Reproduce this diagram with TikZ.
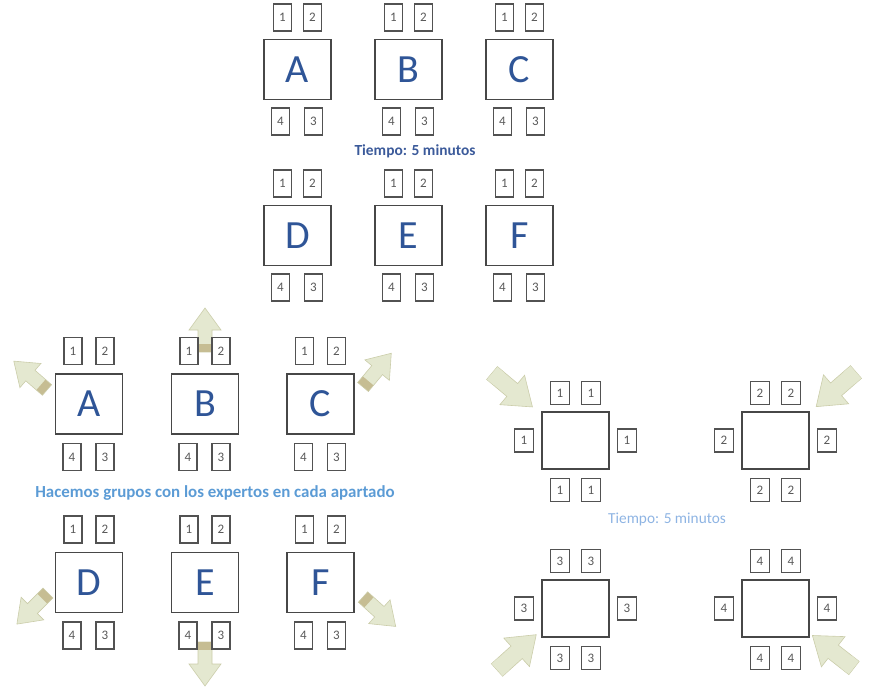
\documentclass[tikz,border=0pt]{standalone}
\usepackage{fontspec}
\setmainfont{Carlito}
\usetikzlibrary{positioning}

\definecolor{letra}{HTML}{2F5597}
\definecolor{tiempoazul}{HTML}{3B5A9A}
\definecolor{gruposazul}{HTML}{5B9BD5}
\definecolor{claroazul}{HTML}{8EB4E3}
\definecolor{flechafondo}{HTML}{E4E8D0}
\definecolor{flechaborde}{HTML}{CBCDAA}
\definecolor{flechasombra}{HTML}{C6BD93}

\tikzset{
  mesa/.style={draw=black!72, line width=1.5pt, fill=white, minimum width=67pt,
    minimum height=60pt, inner sep=0pt, text=letra, font=\fontsize{40}{40}\selectfont},
  mesita/.style={mesa, minimum height=57pt},
  silla/.style={draw=black!68, line width=1.5pt, fill=white, minimum width=18pt,
    minimum height=27pt, inner sep=0pt, text=black!65, font=\fontsize{13}{13}\selectfont},
  sillita/.style={silla, minimum width=19pt, minimum height=23pt},
}

% flecha: x, y (base), angulo, escala, color de la sombra
\newcommand{\flecha}[5]{%
  \begin{scope}[shift={(#1,#2)}, rotate=#3, scale=#4]
    \filldraw[fill=flechafondo, draw=flechaborde, line width=0.6pt]
      (0,-7) -- (22,-7) -- (22,-16) -- (44,0) -- (22,16) -- (22,7) -- (0,7) -- cycle;
    \fill[#5] (0.3,-6.7) rectangle (8,6.7);
  \end{scope}}

\begin{document}
\begin{tikzpicture}[x=1pt, y=-1pt]
  \useasboundingbox (0,0) rectangle (869,687);

  % mesas de arriba
  \foreach \l/\x/\y in {A/297.5/69.5, B/408.5/69.5, C/519.5/69.5,
                        D/297.5/235.5, E/408.5/235.5, F/519.5/235.5} {
    \node[mesa] (t\l) at (\x,\y) {\l};
    \node[silla, above=7pt of t\l.north, xshift=-15pt] (t\l1) {1};
    \node[silla, above=7pt of t\l.north, xshift=15pt] (t\l2) {2};
    \node[silla, below=7pt of t\l.south, xshift=-17pt] (t\l4) {4};
    \node[silla, below=7pt of t\l.south, xshift=16pt] (t\l3) {3};
  }
  \node[font=\bfseries\fontsize{15.4}{15.4}\selectfont, text=tiempoazul] (tiempo1) at (415,151) {Tiempo: 5 minutos};

  % flechas de los grupos
  \flecha{47}{390}{139}{1}{flechasombra}
  \flecha{205}{352}{90}{1}{flechasombra}
  \flecha{363}{387}{50}{1}{flechasombra}
  \flecha{48}{593}{225}{1}{flechasombra}
  \flecha{205}{642}{270}{1}{flechasombra}
  \flecha{363}{597}{318}{1}{flechasombra}

  % mesas de los grupos
  \foreach \l/\x/\y in {A/89/404, B/205/404, C/320.5/404,
                        D/89/582.5, E/205/582.5, F/320.5/582.5} {
    \node[mesa] (g\l) at (\x,\y) {\l};
    \node[silla, above=8pt of g\l.north, xshift=-16pt] (g\l1) {1};
    \node[silla, above=8pt of g\l.north, xshift=16pt] (g\l2) {2};
    \node[silla, below=8pt of g\l.south, xshift=-17pt] (g\l4) {4};
    \node[silla, below=8pt of g\l.south, xshift=16pt] (g\l3) {3};
  }
  \node[font=\bfseries\fontsize{16.9}{16.9}\selectfont, text=gruposazul] (hacemos) at (215,493) {Hacemos grupos con los expertos en cada apartado};

  % flechas de los expertos
  \flecha{492}{373}{320}{1.2}{flechafondo}
  \flecha{856}{372}{221}{1.2}{flechafondo}
  \flecha{497}{670}{42}{1.2}{flechafondo}
  \flecha{854}{668}{142}{1.2}{flechafondo}

  % mesas de los expertos
  \foreach \n/\x/\y in {1/575.5/440.5, 2/775.5/440.5, 3/575.5/608.5, 4/775.5/608.5} {
    \node[mesita] (e\n) at (\x,\y) {};
    \node[sillita, above=6pt of e\n.north, xshift=-15.5pt] (e\n a) {\n};
    \node[sillita, above=6pt of e\n.north, xshift=15.5pt] (e\n b) {\n};
    \node[sillita, left=7pt of e\n.west] (e\n c) {\n};
    \node[sillita, right=7pt of e\n.east] (e\n d) {\n};
    \node[sillita, below=8pt of e\n.south, xshift=-15.5pt] (e\n e) {\n};
    \node[sillita, below=8pt of e\n.south, xshift=15.5pt] (e\n f) {\n};
  }
  \node[font=\fontsize{15.3}{15.3}\selectfont, text=claroazul] (tiempo2) at (667,519) {Tiempo: 5 minutos};
\end{tikzpicture}
\end{document}
